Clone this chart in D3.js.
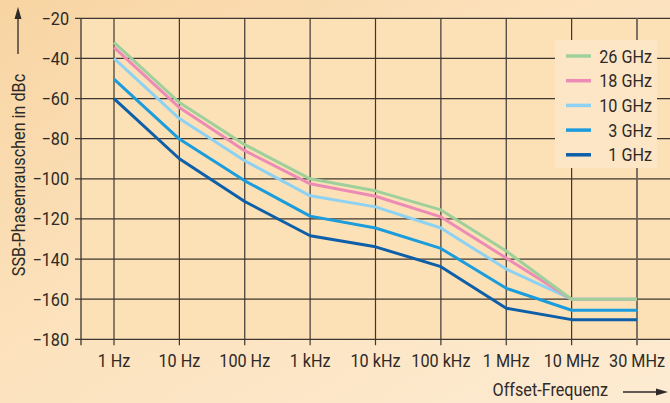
<!DOCTYPE html>
<html>
<head>
<meta charset="utf-8">
<script src="https://cdn.jsdelivr.net/npm/d3@7"></script>
<style>
  body { margin: 0; background: #fbe2bd; }
  svg { display: block; }
  text { font-family: "Roboto", "Liberation Sans", sans-serif; fill: #2e2a27; font-size: 18px; }
</style>
</head>
<body>
<div id="chart"></div>
<script>
// offset frequencies (categorical, evenly spaced)
var categories = ["1 Hz", "10 Hz", "100 Hz", "1 kHz", "10 kHz", "100 kHz", "1 MHz", "10 MHz", "30 MHz"];
var yTicks = [-20, -40, -60, -80, -100, -120, -140, -160, -180];

// SSB phase noise in dBc, per carrier frequency
var ghz26 = [-32, -62, -83, -100, -106, -115.5, -136, -160, -160];
var ghz18 = [-34.5, -64.5, -86, -102.5, -108.7, -119, -139.5, -160, -160];
var ghz10 = [-40, -70, -91, -108.5, -114, -124.5, -145, -160, -160];
var ghz3 = [-50.3, -80.2, -101, -118.6, -124.5, -134.7, -154.6, -165.5, -165.5];
var ghz1 = [-60, -90, -111.3, -128.4, -133.9, -143.8, -164.5, -170.2, -170.2];

var seriesNames = ["26 GHz", "18 GHz", "10 GHz", "3 GHz", "1 GHz"];
var seriesValues = [ghz26, ghz18, ghz10, ghz3, ghz1];
var seriesColors = ["#9fd09c", "#ec8cb6", "#8dd2f2", "#1b9cdc", "#0c5fa8"];

var W = 670, H = 403;
var narrow = 0.9; // the original uses a condensed face

var svg = d3.select("#chart")
    .append("svg")
    .attr("width", W)
    .attr("height", H);

// condensed text: position by translate, squeeze horizontally
function label(sel, px, py, anchor) {
    return sel.attr("transform", function (d, i) {
            return "translate(" + px(d, i) + "," + py(d, i) + ") scale(" + narrow + ",1)";
        })
        .attr("text-anchor", anchor);
}

// background
var defs = svg.append("defs");
var bg = defs.append("linearGradient").attr("id", "bg")
    .attr("x1", "0%").attr("y1", "0%").attr("x2", "100%").attr("y2", "100%");
bg.append("stop").attr("offset", "0%").attr("stop-color", "#f8d4a2");
bg.append("stop").attr("offset", "45%").attr("stop-color", "#fce2bd");
bg.append("stop").attr("offset", "100%").attr("stop-color", "#fdebd2");
svg.append("rect").attr("width", W).attr("height", H).attr("fill", "url(#bg)");

var x = d3.scalePoint()
    .domain(categories)
    .range([114, 637]);

var y = d3.scaleLinear()
    .domain([-180, -20])
    .range([339.3, 18.3]);

var axisX = 81, rightX = 670;

// plot area
svg.append("rect")
    .attr("x", axisX).attr("y", y(-20))
    .attr("width", rightX - axisX).attr("height", y(-180) - y(-20))
    .attr("fill", "#fde1b6");

var gridColor = "#3d3631";

// horizontal grid + y ticks
svg.append("g")
    .selectAll("line")
    .data(yTicks)
    .enter()
    .append("line")
    .attr("x1", axisX - 6)
    .attr("x2", rightX)
    .attr("y1", function (d) { return y(d); })
    .attr("y2", function (d) { return y(d); })
    .attr("stroke", gridColor)
    .attr("stroke-width", 1.2);

// vertical grid + x ticks
svg.append("g")
    .selectAll("line")
    .data(categories)
    .enter()
    .append("line")
    .attr("x1", function (d) { return x(d); })
    .attr("x2", function (d) { return x(d); })
    .attr("y1", y(-20))
    .attr("y2", y(-180) + 6)
    .attr("stroke", function (d, i) { return i == categories.length - 1 ? "#6e655d" : gridColor; })
    .attr("stroke-width", function (d, i) { return i == categories.length - 1 ? 1.8 : 1.2; });

// y axis line
svg.append("line")
    .attr("x1", axisX).attr("x2", axisX)
    .attr("y1", y(-20)).attr("y2", y(-180) + 6)
    .attr("stroke", gridColor)
    .attr("stroke-width", 1.3);

// y tick labels
label(svg.append("g")
    .selectAll("text")
    .data(yTicks)
    .enter()
    .append("text"),
    function () { return 69; },
    function (d) { return y(d) + 6.5; }, "end")
    .text(function (d) { return "\u2212" + Math.abs(d); });

// x tick labels
label(svg.append("g")
    .selectAll("text")
    .data(categories)
    .enter()
    .append("text"),
    function (d) { return x(d); },
    function () { return 366.5; }, "middle")
    .text(function (d) { return d; });

// lines, 1 GHz drawn first so 26 GHz ends up on top
var line = d3.line()
    .x(function (d, i) { return x(categories[i]); })
    .y(function (d) { return y(d); });

for (var s = seriesValues.length - 1; s >= 0; s--) {
    svg.append("path")
        .datum(seriesValues[s])
        .attr("fill", "none")
        .attr("stroke", seriesColors[s])
        .attr("stroke-width", 3)
        .attr("stroke-linejoin", "round")
        .attr("d", line);
}

// legend
var legend = svg.append("g");
legend.append("rect")
    .attr("x", 555).attr("y", 40)
    .attr("width", 102).attr("height", 128)
    .attr("fill", "#fde6c6");

var rows = legend.selectAll("g.row")
    .data(seriesNames)
    .enter()
    .append("g")
    .attr("transform", function (d, i) { return "translate(0," + (56 + i * 24.7) + ")"; });

rows.append("line")
    .attr("x1", 566).attr("x2", 591)
    .attr("y1", 0).attr("y2", 0)
    .attr("stroke", function (d, i) { return seriesColors[i]; })
    .attr("stroke-width", 3.5);

label(rows.append("text"),
    function () { return 652; },
    function () { return 6.5; }, "end")
    .text(function (d) { return d; });

// axis titles with arrows
svg.append("text")
    .attr("transform", "translate(24.5,175) rotate(-90) scale(" + narrow + ",1)")
    .attr("text-anchor", "middle")
    .text("SSB-Phasenrauschen in dBc");

svg.append("line")
    .attr("x1", 18).attr("x2", 18)
    .attr("y1", 54).attr("y2", 16)
    .attr("stroke", "#2e2a27").attr("stroke-width", 1.3);
svg.append("path")
    .attr("d", "M18,7 L14.5,19 L21.5,19 Z")
    .attr("fill", "#2e2a27");

svg.append("text")
    .attr("transform", "translate(608,396) scale(" + narrow + ",1)")
    .attr("text-anchor", "end")
    .text("Offset-Frequenz");

svg.append("line")
    .attr("x1", 623).attr("x2", 658)
    .attr("y1", 392).attr("y2", 392)
    .attr("stroke", "#2e2a27").attr("stroke-width", 1.3);
svg.append("path")
    .attr("d", "M668,392 L656,388.5 L656,395.5 Z")
    .attr("fill", "#2e2a27");
</script>
</body>
</html>
